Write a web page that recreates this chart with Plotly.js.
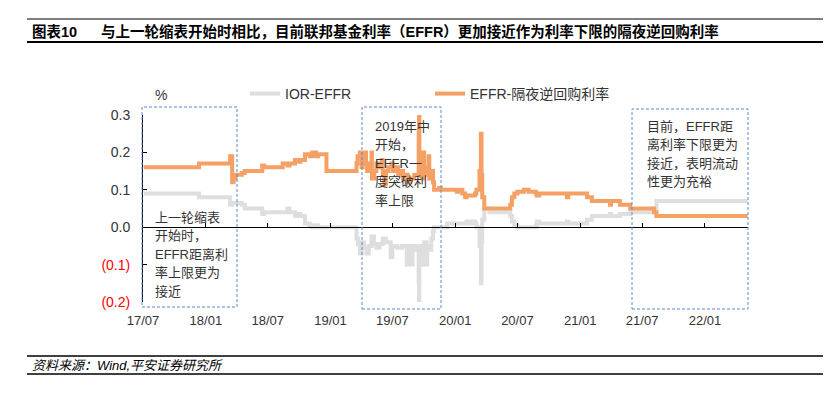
<!DOCTYPE html>
<html>
<head>
<meta charset="utf-8">
<script src="https://cdn.plot.ly/plotly-3.0.1.min.js"></script>
<style>html,body{margin:0;padding:0;background:#fff;}#chart{width:839px;height:398px;}</style>
</head>
<body>
<div id="chart"></div>
<script>
// ---------- data ----------
const seriesNames = ['IOR-EFFR', 'EFFR-隔夜逆回购利率'];

const grayDates = ['2017-07-03','2017-12-12','2018-03-13','2018-03-19','2018-04-16','2018-04-25','2018-06-15','2018-06-21','2018-08-28','2018-09-03','2018-09-19','2018-10-01','2018-10-05','2018-10-18','2018-11-01','2018-11-08','2018-11-20','2018-11-26','2019-03-13',
'2019-03-18','2019-03-22','2019-03-28','2019-04-02','2019-04-09','2019-04-16','2019-04-23','2019-05-01','2019-05-08','2019-05-15','2019-05-24','2019-06-03','2019-06-12','2019-06-26','2019-07-01','2019-07-15','2019-07-29','2019-08-12','2019-08-15','2019-08-26','2019-08-29','2019-09-09','2019-09-16','2019-09-17','2019-09-18','2019-09-20','2019-09-30','2019-10-02','2019-10-09','2019-10-11','2019-10-17','2019-10-23','2019-10-28','2019-10-31',
'2019-12-08','2020-02-03','2020-02-10','2020-02-18','2020-02-28','2020-03-03','2020-03-12','2020-03-16','2020-03-18','2020-03-20','2020-03-26','2020-04-10','2020-06-10','2020-06-15','2020-06-22','2020-07-01','2020-08-24','2020-08-27','2020-09-03','2020-11-23','2020-11-27','2021-01-21','2021-02-04','2021-03-29','2021-04-01','2021-04-27','2021-05-27','2021-08-05','2021-08-12','2022-05-06'];
const grayValues = [0.09,0.08,0.06,0.065,0.06,0.05,0.035,0.04,0.05,0.04,0.03,0.035,0.03,0.01,0.005,0.0,0.005,0.0,0.0,
-0.03,-0.045,-0.07,-0.04,-0.055,-0.07,-0.05,-0.025,-0.045,-0.055,-0.045,-0.03,-0.04,-0.08,-0.05,-0.055,-0.05,-0.1,-0.05,-0.1,-0.05,-0.06,-0.15,-0.2,-0.1,-0.05,-0.1,-0.04,-0.1,-0.05,-0.06,-0.03,-0.01,0.0,
0.01,0.015,0.01,0.015,0.01,0.0,-0.05,-0.15,-0.04,0.02,0.05,0.04,0.03,0.015,0.005,0.0,0.005,0.015,0.01,0.015,0.01,0.02,0.03,0.035,0.03,0.035,0.04,0.05,0.07,0.07];

const orangeDates = ['2017-07-03','2017-12-12','2018-03-13','2018-03-19','2018-03-23','2018-03-29','2018-04-16','2018-04-25','2018-06-15','2018-06-21','2018-08-14','2018-08-28','2018-09-03','2018-09-19','2018-10-01','2018-10-05','2018-10-18','2018-11-01','2018-11-08','2018-11-20','2018-11-26','2018-12-20','2019-03-13',
'2019-03-18','2019-03-21','2019-03-28','2019-04-02','2019-04-05','2019-04-09','2019-04-15','2019-04-18','2019-04-24','2019-05-01','2019-05-02','2019-05-09','2019-05-15','2019-05-22','2019-05-31','2019-06-03','2019-06-07','2019-06-12','2019-06-19','2019-06-28','2019-07-02','2019-07-10','2019-07-18','2019-07-25','2019-08-01','2019-08-08','2019-08-15','2019-08-22','2019-09-03','2019-09-16','2019-09-17','2019-09-18','2019-09-20','2019-09-25','2019-09-30','2019-10-02','2019-10-09','2019-10-15','2019-10-17','2019-10-23','2019-10-28','2019-10-31',
'2019-11-15','2019-11-20','2020-01-06','2020-01-13','2020-01-22','2020-01-30','2020-02-03','2020-02-28','2020-03-03','2020-03-12','2020-03-16','2020-03-18','2020-03-20','2020-03-26','2020-06-10','2020-06-15','2020-06-22','2020-07-01','2020-07-20','2020-08-03','2020-08-24','2020-08-27','2020-09-03','2020-11-23','2020-11-27','2021-01-21','2021-02-04','2021-03-29','2021-04-01','2021-04-27','2021-05-27','2021-08-05','2021-08-12','2022-05-06'];
const orangeValues = [0.16,0.17,0.19,0.12,0.13,0.14,0.145,0.15,0.165,0.16,0.17,0.165,0.17,0.18,0.175,0.18,0.195,0.19,0.2,0.19,0.195,0.15,0.15,
0.17,0.19,0.2,0.16,0.18,0.2,0.17,0.15,0.17,0.2,0.13,0.15,0.17,0.16,0.18,0.14,0.115,0.15,0.16,0.17,0.15,0.16,0.14,0.15,0.13,0.14,0.12,0.13,0.14,0.25,0.3,0.2,0.15,0.13,0.2,0.14,0.16,0.19,0.13,0.15,0.12,0.1,
0.105,0.1,0.095,0.1,0.09,0.08,0.085,0.09,0.1,0.15,0.25,0.14,0.08,0.05,0.06,0.08,0.09,0.095,0.1,0.095,0.09,0.085,0.09,0.08,0.09,0.08,0.07,0.06,0.07,0.06,0.05,0.04,0.03,0.03];

const xTickVals = ['2017-07-01','2018-01-01','2018-07-01','2019-01-01','2019-07-01','2020-01-01','2020-07-01','2021-01-01','2021-07-01','2022-01-01'];
const xTickText = ['17/07','18/01','18/07','19/01','19/07','20/01','20/07','21/01','21/07','22/01'];
const yTickVals = [0.3, 0.2, 0.1, 0.0, -0.1, -0.2];
const yTickText = ['0.3','0.2','0.1','0.0','(0.1)','(0.2)'];

const chartTitleLabel = '图表10';
const chartTitle = '与上一轮缩表开始时相比，目前联邦基金利率（EFFR）更加接近作为利率下限的隔夜逆回购利率';
const sourceText = '资料来源：Wind,平安证券研究所';
const unitText = '%';
const noteTexts = [
  ['上一轮缩表','开始时，','EFFR距离利','率上限更为','接近'],
  ['2019年中','开始，','EFFR一','度突破利','率上限'],
  ['目前，EFFR距','离利率下限更为','接近，表明流动','性更为充裕']
];

// ---------- layout helpers (pixel -> paper) ----------
const W = 839, H = 398;
const M = {l: 143, r: 91, t: 115, b: 96};
const PW = W - M.l - M.r, PH = H - M.t - M.b;
const px = x => (x - M.l) / PW;
const py = y => (H - M.b - y) / PH;

const FONT = 'Liberation Sans, Arial, "Noto Sans CJK SC", sans-serif';
const ORANGE = '#F5A065';
const GRAY = '#DEDEDE';
const BOXC = '#5B8BCF';

const traces = [
  {x: grayDates, y: grayValues, type: 'scatter', mode: 'lines', name: seriesNames[0],
   line: {color: GRAY, width: 4, shape: 'hv'}, legend: 'legend', hoverinfo: 'skip'},
  {x: orangeDates, y: orangeValues, type: 'scatter', mode: 'lines', name: seriesNames[1],
   line: {color: ORANGE, width: 4, shape: 'hv'}, legend: 'legend2', hoverinfo: 'skip'},
  {x: orangeDates, y: orangeValues, type: 'scatter', mode: 'lines', xaxis: 'x2', yaxis: 'y',
   line: {width: 0}, opacity: 0, showlegend: false, hoverinfo: 'skip'}
];

const xRange = ['2017-07-01', '2022-05-07'];

const boxes = [[142, 237, 107, 307], [362, 441, 107, 309], [632, 748, 109, 309]];
const shapes = boxes.map(b => ({
  type: 'rect', xref: 'paper', yref: 'paper',
  x0: px(b[0]), x1: px(b[1]), y0: py(b[3]), y1: py(b[2]),
  line: {color: BOXC, width: 1, dash: '3px,2px'}, fillcolor: 'rgba(0,0,0,0)', layer: 'above'
}));
// header / footer rules
[[19, 1.2], [42, 2], [356, 1.5], [374, 1.5]].forEach(r => shapes.push({
  type: 'line', xref: 'paper', yref: 'paper', x0: px(27), x1: px(823), y0: py(r[0]), y1: py(r[0]),
  line: {color: '#000', width: r[1]}
}));

const annotations = [
  {text: chartTitleLabel, xref: 'paper', yref: 'paper', x: px(30), y: py(31), xanchor: 'left', yanchor: 'middle',
   showarrow: false, font: {family: FONT, size: 14.5, color: '#000', weight: 'bold'}},
  {text: chartTitle, xref: 'paper', yref: 'paper', x: px(99), y: py(31), xanchor: 'left', yanchor: 'middle',
   showarrow: false, font: {family: FONT, size: 14.5, color: '#000', weight: 'bold'}},
  {text: '<i>' + sourceText + '</i>', xref: 'paper', yref: 'paper', x: px(30), y: py(365), xanchor: 'left', yanchor: 'middle',
   showarrow: false, font: {family: FONT, size: 13, color: '#000'}},
  {text: unitText, xref: 'paper', yref: 'paper', x: px(153), y: py(95), xanchor: 'left', yanchor: 'middle',
   showarrow: false, font: {family: FONT, size: 14, color: '#333'}}
];
const noteStarts = [[153, 217], [373, 126], [645, 126]];
noteTexts.forEach((lines, i) => {
  lines.forEach((t, j) => annotations.push({
    text: t, xref: 'paper', yref: 'paper', x: px(noteStarts[i][0]), y: py(noteStarts[i][1] + j * 18.6),
    xanchor: 'left', yanchor: 'middle', showarrow: false, font: {family: FONT, size: 13, color: '#333'}
  }));
});

const layout = {
  width: W, height: H, margin: M,
  paper_bgcolor: '#fff', plot_bgcolor: '#fff',
  font: {family: FONT, size: 13, color: '#333'},
  showlegend: true,
  legend: {x: px(245), y: py(94), xanchor: 'left', yanchor: 'middle', orientation: 'h',
           bgcolor: 'rgba(0,0,0,0)', font: {size: 14, color: '#333'}},
  legend2: {x: px(430), y: py(94), xanchor: 'left', yanchor: 'middle', orientation: 'h',
            bgcolor: 'rgba(0,0,0,0)', font: {size: 14, color: '#333'}},
  xaxis: {type: 'date', range: xRange, anchor: 'free', position: 0.4,
          showline: true, linecolor: '#000', linewidth: 1,
          ticks: 'inside', ticklen: 4, tickcolor: '#000', tickvals: xTickVals,
          showticklabels: false, showgrid: false, zeroline: false},
  xaxis2: {type: 'date', range: xRange, overlaying: 'x', anchor: 'y', side: 'bottom',
           showline: false, ticks: '', tickvals: xTickVals, ticktext: xTickText,
           tickfont: {size: 13, color: '#333'}, ticklabelstandoff: 9, showgrid: false, zeroline: false},
  yaxis: {range: [-0.2, 0.3], showline: true, linecolor: '#000', linewidth: 1,
          ticks: 'inside', ticklen: 4, tickcolor: '#000',
          tickvals: yTickVals,
          ticktext: yTickText.map((t, i) => yTickVals[i] < 0 ? '<span style="color:#FF0000">' + t + '</span>' : t),
          tickfont: {size: 14, color: '#333'}, ticklabelstandoff: 9, showgrid: false, zeroline: false},
  shapes: shapes,
  annotations: annotations
};

Plotly.newPlot('chart', traces, layout, {displayModeBar: false, staticPlot: true});
</script>
</body>
</html>
